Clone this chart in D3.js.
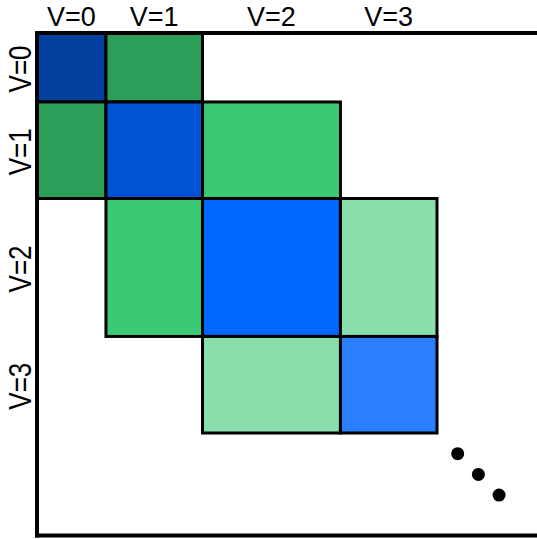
<!DOCTYPE html>
<html>
<head>
<meta charset="utf-8">
<script src="https://cdn.jsdelivr.net/npm/d3@7"></script>
<style>
  html, body { margin: 0; padding: 0; background: #fff; }
  svg { display: block; }
</style>
</head>
<body>
<div id="chart"></div>
<script>
// block labels and block sizes (relative units)
const labels = ["V=0", "V=1", "V=2", "V=3"];
const blockSize = [5, 7, 10, 7];

// non-zero blocks: row, col, colour
const blockRow = [0, 0, 1, 1, 1, 2, 2, 2, 3, 3];
const blockCol = [0, 1, 0, 1, 2, 1, 2, 3, 2, 3];
const blockColor = ["#033f9f", "#2d9d5a", "#2d9d5a", "#0152d4", "#3bc973",
                    "#3bc973", "#0066ff", "#89dfab", "#89dfab", "#2b7fff"];

// continuation dots (in block units)
const dotPos = [30.5, 32, 33.5];

const width = 537, height = 539;
const margin = {top: 33, left: 37};

const svg = d3.select("#chart")
  .append("svg")
  .attr("width", width)
  .attr("height", height);

// cumulative offsets
const offsets = [0];
blockSize.forEach((s, i) => offsets.push(offsets[i] + s));

const x = d3.scaleLinear().domain([0, 29]).range([margin.left, 437]);
const y = d3.scaleLinear().domain([0, 29]).range([margin.top, 433]);

// cells
const blocks = blockRow.map((r, i) => ({r, c: blockCol[i], color: blockColor[i]}));
svg.selectAll("rect.block")
  .data(blocks)
  .join("rect")
  .attr("class", "block")
  .attr("x", d => x(offsets[d.c]))
  .attr("y", d => y(offsets[d.r]))
  .attr("width", d => x(offsets[d.c + 1]) - x(offsets[d.c]))
  .attr("height", d => y(offsets[d.r + 1]) - y(offsets[d.r]))
  .attr("fill", d => d.color)
  .attr("stroke", "#000")
  .attr("stroke-width", 3);

// frame: top, left, bottom
const fs = 4;
svg.append("line")
  .attr("x1", x(0) - fs / 2).attr("x2", width)
  .attr("y1", y(0)).attr("y2", y(0))
  .attr("stroke", "#000").attr("stroke-width", fs);
svg.append("line")
  .attr("x1", x(0)).attr("x2", x(0))
  .attr("y1", y(0)).attr("y2", 537.5)
  .attr("stroke", "#000").attr("stroke-width", fs);
svg.append("line")
  .attr("x1", x(0) - fs / 2).attr("x2", width)
  .attr("y1", 535.5).attr("y2", 535.5)
  .attr("stroke", "#000").attr("stroke-width", fs);

// top labels
svg.selectAll("text.top")
  .data(labels)
  .join("text")
  .attr("class", "top")
  .attr("x", (d, i) => (x(offsets[i]) + x(offsets[i + 1])) / 2)
  .attr("y", 26)
  .attr("text-anchor", "middle")
  .attr("font-family", "Liberation Sans, Arial, sans-serif")
  .attr("font-size", 27)
  .text(d => d);

// left labels (rotated, slightly taller glyphs)
svg.selectAll("text.left")
  .data(labels)
  .join("text")
  .attr("class", "left")
  .attr("transform", (d, i) => `translate(30.5,${(y(offsets[i]) + y(offsets[i + 1])) / 2 + 1.5}) rotate(-90) scale(1,1.24)`)
  .attr("text-anchor", "middle")
  .attr("font-family", "Liberation Sans, Arial, sans-serif")
  .attr("font-size", 26)
  .text(d => d);

// dots
svg.selectAll("circle.dot")
  .data(dotPos)
  .join("circle")
  .attr("class", "dot")
  .attr("cx", d => x(d))
  .attr("cy", d => y(d))
  .attr("r", 6.5)
  .attr("fill", "#000");
</script>
</body>
</html>
